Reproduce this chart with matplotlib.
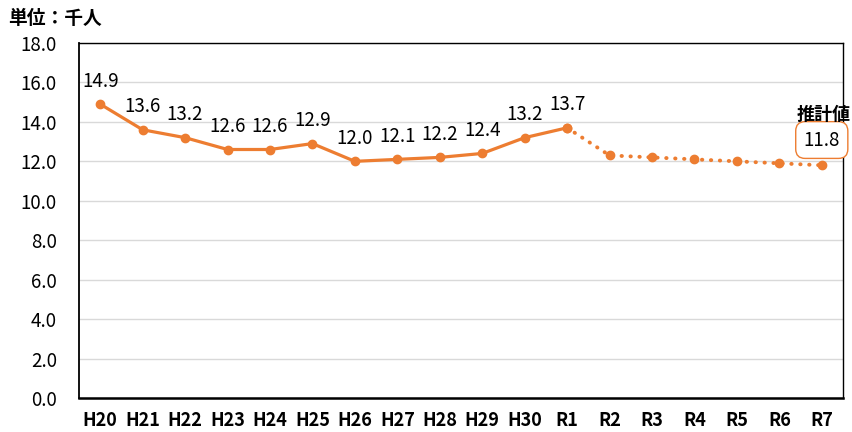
import matplotlib.pyplot as plt

plt.rcParams['font.family'] = ['Noto Sans CJK JP', 'DejaVu Sans']

years = ["H20", "H21", "H22", "H23", "H24", "H25", "H26", "H27", "H28", "H29",
         "H30", "R1", "R2", "R3", "R4", "R5", "R6", "R7"]
actual = [14.9, 13.6, 13.2, 12.6, 12.6, 12.9, 12.0, 12.1, 12.2, 12.4, 13.2, 13.7]
estimate = [13.7, 12.3, 12.2, 12.1, 12.0, 11.9, 11.8]
yticks = [0, 2, 4, 6, 8, 10, 12, 14, 16, 18]

color = "#ED7D31"

fig = plt.figure(figsize=(8.53, 4.32), dpi=100)
ax = fig.add_axes([79 / 853, 1 - 398 / 432, (843 - 79) / 853, (398 - 43) / 432])

x_act = list(range(len(actual)))
x_est = list(range(len(actual) - 1, len(years)))

ax.plot(x_act, actual, color=color, lw=2.3, marker="o", ms=6, zorder=3,
        solid_joinstyle="round")
ax.plot(x_est, estimate, color=color, lw=2.8, ls=(0, (0.1, 2.2)), dash_capstyle="round",
        marker="o", ms=6, zorder=3)

for x, v in zip(x_act, actual):
    ax.annotate(f"{v:.1f}", (x, v), xytext=(0, 16.5), textcoords="offset points",
                ha="center", va="center", fontsize=13.5)

# estimated value box for the last year
ax.text(x_est[-1], 13.08, f"{estimate[-1]:.1f}", ha="center", va="center", fontsize=13.5,
        bbox=dict(boxstyle="round,pad=0.42,rounding_size=0.5", fc="white", ec=color, lw=1))
ax.text(x_est[-1] + 0.04, 14.38, "推計値", ha="center", va="center", fontsize=13, fontweight="bold")

ax.set_xlim(-0.5, len(years) - 0.5)
ax.set_ylim(0, 18)
ax.set_yticks(yticks)
ax.set_yticklabels([f"{t:.1f}" for t in yticks], fontsize=13.5)
ax.set_xticks(range(len(years)))
ax.set_xticklabels(years, fontsize=13, fontweight="bold")
ax.tick_params(axis="y", length=0, pad=16)
ax.tick_params(axis="x", length=0, pad=9)
ax.grid(axis="y", color="#d9d9d9", lw=1)
ax.set_axisbelow(True)
for s in ax.spines.values():
    s.set_color("black")
    s.set_linewidth(1)
ax.spines["left"].set_linewidth(1.3)
ax.spines["bottom"].set_linewidth(1.8)

fig.text(8 / 853, 1 - 18 / 432, "単位：千人", fontsize=13.5, fontweight="bold", va="center")

fig.savefig("out.png", dpi=100)
